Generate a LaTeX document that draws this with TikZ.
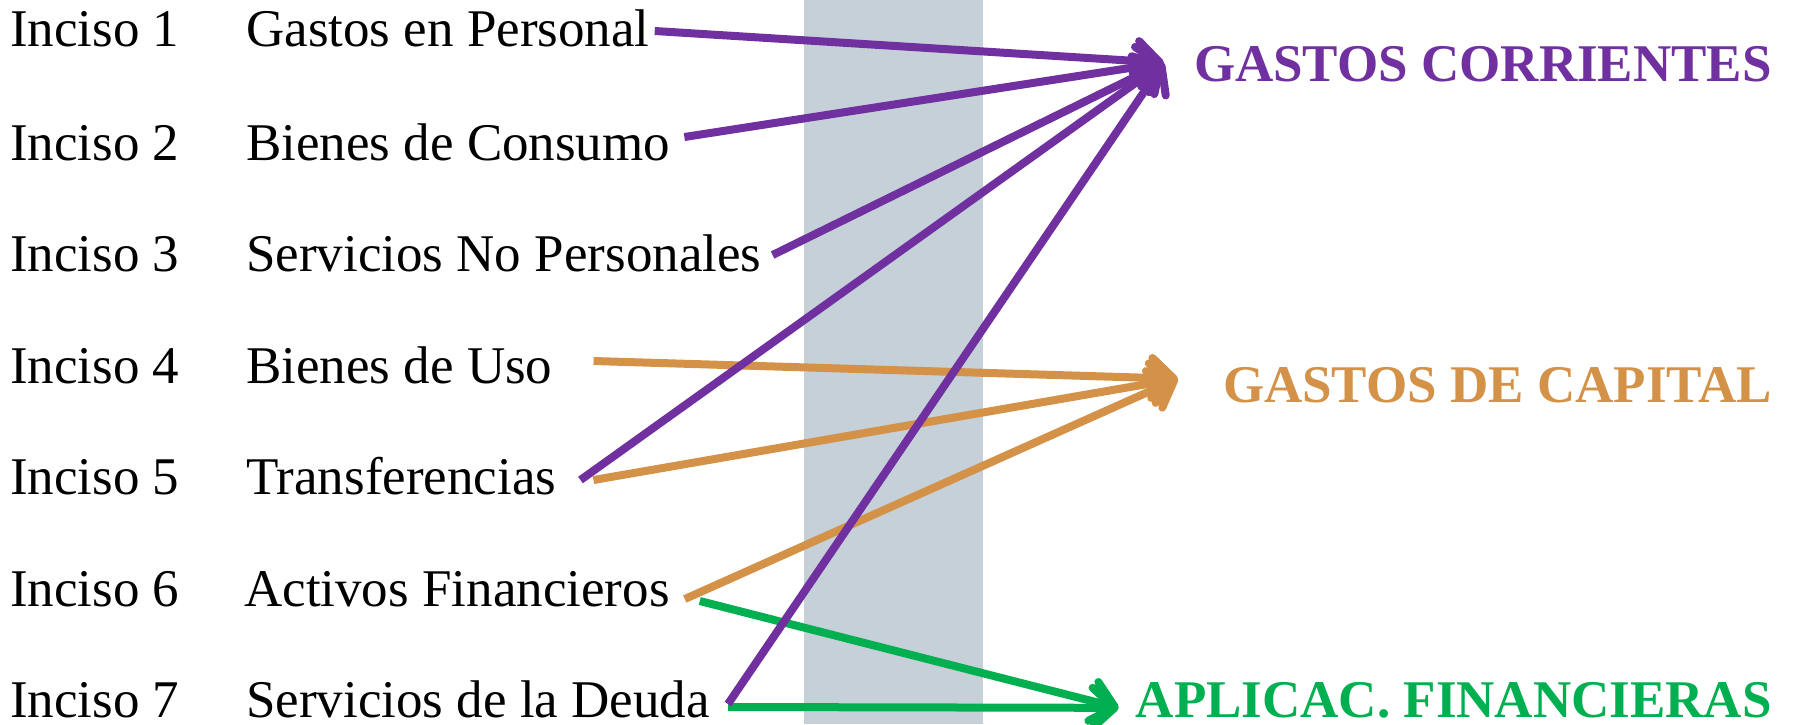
\documentclass[tikz,border=0pt]{standalone}
\usepackage{fontspec}
\setmainfont{Liberation Serif}
\usetikzlibrary{arrows.meta,calc}
\definecolor{cpurple}{RGB}{112,48,160}
\definecolor{corange}{RGB}{212,145,72}
\definecolor{cgreen}{RGB}{0,176,80}
\definecolor{cband}{RGB}{197,208,216}
\begin{document}
\begin{tikzpicture}[x=1pt,y=-1pt,
  lbl/.style={anchor=base west,inner sep=0pt,font=\fontsize{53}{60}\selectfont},
  cat/.style={anchor=base east,inner sep=0pt,font=\fontsize{53}{60}\selectfont\bfseries},
  conn/.style={line width=8pt,-{Straight Barb[length=22pt,width=40pt,round]}}]
\useasboundingbox (0,0) rectangle (1793,724);
\fill[cband] (804,0) rectangle (983,724);
\node[lbl] (i1) at (10,46) {Inciso 1};
\node[lbl] (i2) at (10,160) {Inciso 2};
\node[lbl] (i3) at (10,271) {Inciso 3};
\node[lbl] (i4) at (10,383) {Inciso 4};
\node[lbl] (i5) at (10,494) {Inciso 5};
\node[lbl] (i6) at (10,606) {Inciso 6};
\node[lbl] (i7) at (10,717) {Inciso 7};
\node[lbl] (n1) at (246,46) {Gastos en Personal};
\node[lbl] (n2) at (246,160) {Bienes de Consumo};
\node[lbl] (n3) at (246,271) {Servicios No Personales};
\node[lbl] (n4) at (246,383) {Bienes de Uso};
\node[lbl] (n5) at (246,494) {Transferencias};
\node[lbl] (n6) at (244,606) {Activos Financieros};
\node[lbl] (n7) at (246,717) {Servicios de la Deuda};
\node[cat,text=cpurple] (gc) at (1772,81) {GASTOS CORRIENTES};
\node[cat,text=corange] (gk) at (1772,402) {GASTOS DE CAPITAL};
\node[cat,text=cgreen] (af) at (1772,717) {APLICAC. FINANCIERAS};
\coordinate (tgc) at ([xshift=-30pt,yshift=1pt]gc.west);
\coordinate (tgk) at ([xshift=-45pt,yshift=6pt]gk.west);
\coordinate (taf) at ([xshift=-17pt,yshift=-8pt]af.west);
\coordinate (s1) at ([xshift=5pt,yshift=15pt]n1.base east);
\coordinate (s2) at ([xshift=14pt,yshift=23pt]n2.base east);
\coordinate (s3) at ([xshift=11pt,yshift=16pt]n3.base east);
\coordinate (s4) at ([xshift=41pt,yshift=22pt]n4.base east);
\coordinate (s5p) at ([xshift=24pt,yshift=14pt]n5.base east);
\coordinate (s5o) at ([xshift=37pt,yshift=14pt]n5.base east);
\coordinate (s6o) at ([xshift=15pt,yshift=7pt]n6.base east);
\coordinate (s6g) at ([xshift=30pt,yshift=5pt]n6.base east);
\coordinate (s7p) at ([xshift=18pt,yshift=13pt]n7.base east);
\coordinate (s7g) at ([xshift=18pt,yshift=10pt]n7.base east);
\draw[conn,corange] (s4) -- (tgk);
\draw[conn,corange] (s5o) -- (tgk);
\draw[conn,corange] (s6o) -- (tgk);
\draw[conn,cgreen] (s6g) -- (taf);
\draw[conn,cgreen] (s7g) -- (taf);
\draw[conn,cpurple] (s1) -- (tgc);
\draw[conn,cpurple] (s2) -- (tgc);
\draw[conn,cpurple] (s3) -- (tgc);
\draw[conn,cpurple] (s5p) -- (tgc);
\draw[conn,cpurple] (s7p) -- (tgc);
\end{tikzpicture}
\end{document}
